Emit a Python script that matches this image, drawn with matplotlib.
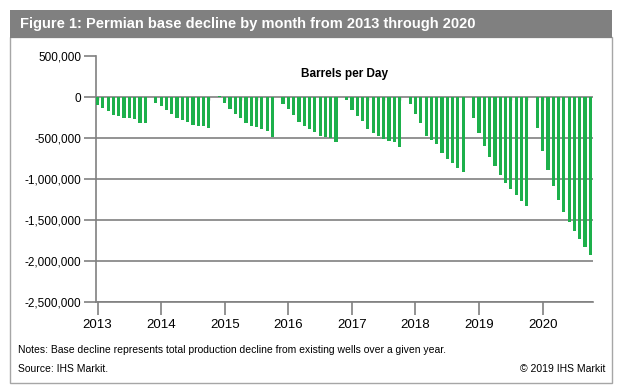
import numpy as np
import matplotlib.pyplot as plt
from matplotlib.patches import Rectangle

plt.rcParams['font.family'] = ['Liberation Sans', 'DejaVu Sans']

# monthly base decline, thousand barrels per day, one list per calendar year
y2013 = [-100, -129, -173, -214, -226, -250, -262, -270, -319, -319, 0, -69]
y2014 = [-114, -161, -209, -258, -282, -306, -342, -355, -355, -379, 0, 16]
y2015 = [-69, -141, -210, -258, -319, -355, -367, -391, -415, -492, 0, -81]
y2016 = [-150, -214, -299, -355, -395, -428, -476, -492, -500, -549, 0, -40]
y2017 = [-161, -234, -294, -391, -440, -476, -512, -536, -549, -609, 0, -89]
y2018 = [-210, -319, -476, -525, -573, -686, -757, -807, -868, -915, 0, -250]
y2019 = [-444, -601, -734, -843, -952, -1050, -1125, -1200, -1273, -1334, 0, -372]
y2020 = [-658, -888, -1082, -1251, -1397, -1530, -1639, -1736, -1833, -1930]

years = [2013, 2014, 2015, 2016, 2017, 2018, 2019, 2020]
yticks = [500000, 0, -500000, -1000000, -1500000, -2000000, -2500000]

values = np.array(y2013 + y2014 + y2015 + y2016 + y2017 + y2018 + y2019 + y2020) * 1000
months = np.arange(len(values))

grey = '#808080'

fig = plt.figure(figsize=(6.18, 3.90), dpi=100)

# frame and title bar, kept behind the axes
fig.patches.append(Rectangle((10 / 618, 1 - 383 / 390), 602 / 618, 346 / 390,
                             transform=fig.transFigure, facecolor='white',
                             edgecolor='#a6a6a6', lw=1, zorder=-2))
fig.patches.append(Rectangle((10 / 618, 1 - 38 / 390), 602 / 618, 28 / 390,
                             transform=fig.transFigure, facecolor=grey, lw=0, zorder=-1))
fig.text(20 / 618, 1 - 24 / 390, 'Figure 1: Permian base decline by month from 2013 through 2020',
         color='white', fontsize=10.5, fontweight='bold', va='center')

ax = fig.add_axes([96 / 618, 1 - 302 / 390, 497 / 618, 246 / 390])
ax.patch.set_alpha(0)
ax.bar(months, values, width=0.6, color='#1db04b', zorder=3)

# quarter marks on the zero line
ax.vlines(np.arange(0, len(values), 3), -36000, 0, color=grey, lw=1, zorder=2)

ax.set_ylim(-2500000, 500000)
ax.set_xlim(-0.3, 93.5)
ax.set_yticks(yticks)
ax.set_yticklabels([f'{v:,}' for v in yticks])
ax.set_xticks(np.arange(len(years)) * 12)
ax.set_xticklabels([str(y) for y in years])
ax.yaxis.grid(True, color=grey, lw=1.2)
ax.yaxis.get_gridlines()[0].set_visible(False)
ax.set_axisbelow(True)

for s in ['top', 'right']:
    ax.spines[s].set_visible(False)
for s in ['left', 'bottom']:
    ax.spines[s].set_color(grey)
    ax.spines[s].set_linewidth(1.2)
ax.tick_params(axis='y', length=8.6, width=1.2, color=grey, pad=2, labelsize=8.5)
ax.tick_params(axis='x', length=9.4, width=1.2, color=grey, pad=3, labelsize=9.5)

ax.text(0.5, 0.925, 'Barrels per Day', transform=ax.transAxes, ha='center',
        va='center', fontsize=8.5, fontweight='bold')

fig.text(18 / 618, 1 - 350 / 390,
         'Notes: Base decline represents total production decline from existing wells over a given year.',
         fontsize=7.5, va='center')
fig.text(18 / 618, 1 - 369 / 390, 'Source: IHS Markit.', fontsize=7.5, va='center')
fig.text(605 / 618, 1 - 369 / 390, '\u00a9 2019 IHS Markit', fontsize=7.5, va='center', ha='right')

fig.savefig('out.png', dpi=100)
